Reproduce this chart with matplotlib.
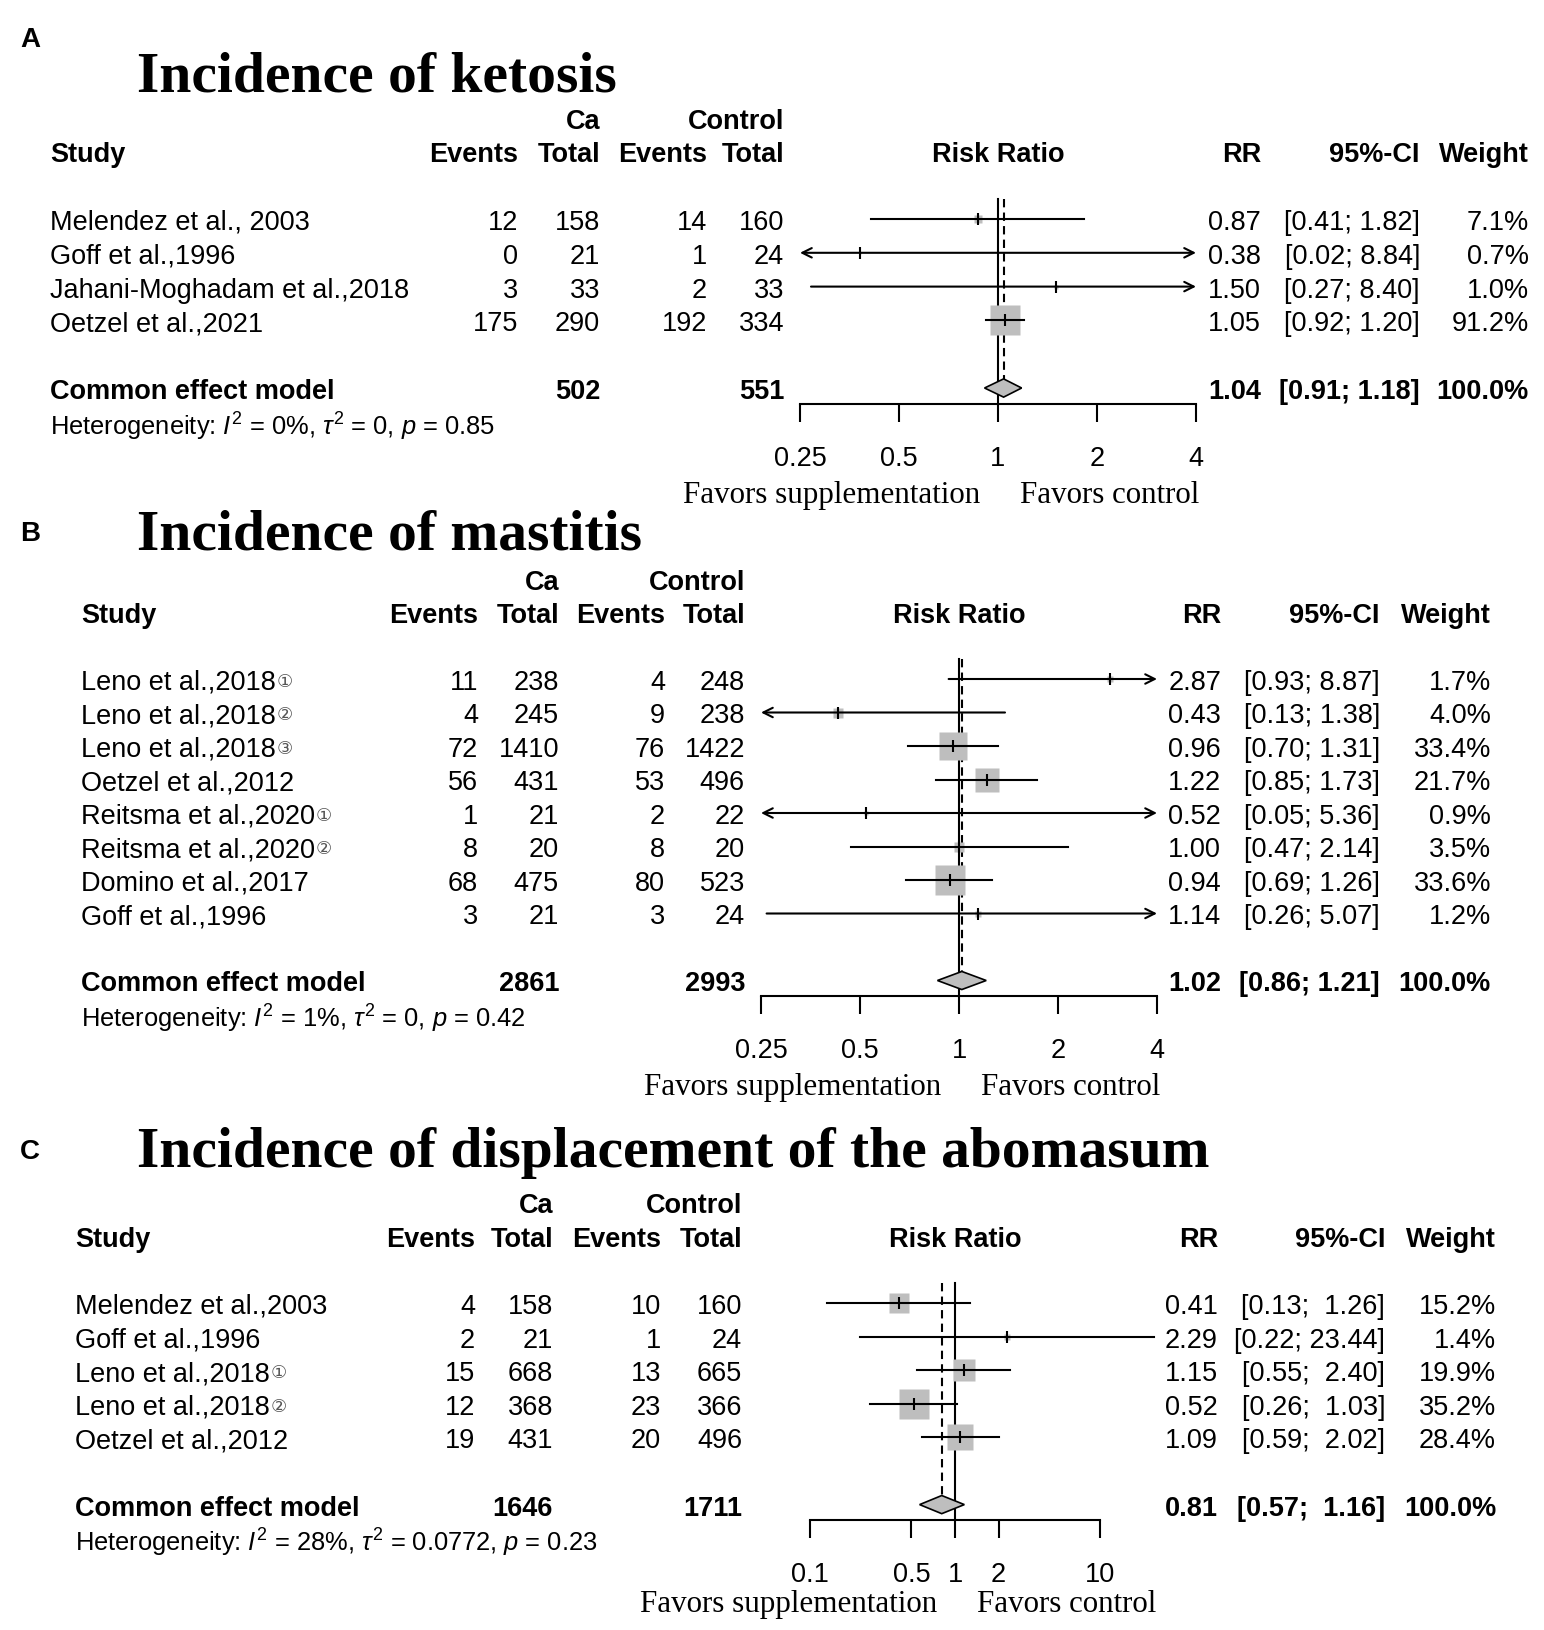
import numpy as np
import matplotlib.pyplot as plt
from matplotlib.transforms import blended_transform_factory
from matplotlib.ticker import NullLocator

plt.rcParams['font.family'] = ['Liberation Sans', 'DejaVu Sans']
plt.rcParams['mathtext.fontset'] = 'custom'
plt.rcParams['mathtext.rm'] = 'Liberation Sans'
plt.rcParams['mathtext.it'] = 'Liberation Sans:italic'

W, H = 1544, 1631
FS = 19.5
GRAY = '#BEBEBE'

# ---------------- A: ketosis ----------------
studies_a = ["Melendez et al., 2003", "Goff et al.,1996",
             "Jahani-Moghadam et al.,2018", "Oetzel et al.,2021"]
ev_ca_a = [12, 0, 3, 175]
n_ca_a = [158, 21, 33, 290]
ev_ct_a = [14, 1, 2, 192]
n_ct_a = [160, 24, 33, 334]
rr_a = [0.87, 0.38, 1.50, 1.05]
lo_a = [0.41, 0.02, 0.27, 0.92]
hi_a = [1.82, 8.84, 8.40, 1.20]
wt_a = [7.1, 0.7, 1.0, 91.2]
pooled_a = [1.04, 0.91, 1.18]
totals_a = [502, 551]
het_a = r"Heterogeneity: $I^2$ = 0%, $\tau^2$ = 0, $p$ = 0.85"

# ---------------- B: mastitis ----------------
studies_b = ["Leno et al.,2018\u2460", "Leno et al.,2018\u2461", "Leno et al.,2018\u2462",
             "Oetzel et al.,2012", "Reitsma et al.,2020\u2460", "Reitsma et al.,2020\u2461",
             "Domino et al.,2017", "Goff et al.,1996"]
ev_ca_b = [11, 4, 72, 56, 1, 8, 68, 3]
n_ca_b = [238, 245, 1410, 431, 21, 20, 475, 21]
ev_ct_b = [4, 9, 76, 53, 2, 8, 80, 3]
n_ct_b = [248, 238, 1422, 496, 22, 20, 523, 24]
rr_b = [2.87, 0.43, 0.96, 1.22, 0.52, 1.00, 0.94, 1.14]
lo_b = [0.93, 0.13, 0.70, 0.85, 0.05, 0.47, 0.69, 0.26]
hi_b = [8.87, 1.38, 1.31, 1.73, 5.36, 2.14, 1.26, 5.07]
wt_b = [1.7, 4.0, 33.4, 21.7, 0.9, 3.5, 33.6, 1.2]
pooled_b = [1.02, 0.86, 1.21]
totals_b = [2861, 2993]
het_b = r"Heterogeneity: $I^2$ = 1%, $\tau^2$ = 0, $p$ = 0.42"

# ---------------- C: displaced abomasum ----------------
studies_c = ["Melendez et al.,2003", "Goff et al.,1996", "Leno et al.,2018\u2460",
             "Leno et al.,2018\u2461", "Oetzel et al.,2012"]
ev_ca_c = [4, 2, 15, 12, 19]
n_ca_c = [158, 21, 668, 368, 431]
ev_ct_c = [10, 1, 13, 23, 20]
n_ct_c = [160, 24, 665, 366, 496]
rr_c = [0.41, 2.29, 1.15, 0.52, 1.09]
lo_c = [0.13, 0.22, 0.55, 0.26, 0.59]
hi_c = [1.26, 23.44, 2.40, 1.03, 2.02]
wt_c = [15.2, 1.4, 19.9, 35.2, 28.4]
pooled_c = [0.81, 0.57, 1.16]
totals_c = [1646, 1711]
het_c = r"Heterogeneity: $I^2$ = 28%, $\tau^2$ = 0.0772, $p$ = 0.23"

panels = [
    dict(letter='A', title='Incidence of ketosis', studies=studies_a, ev_ca=ev_ca_a, n_ca=n_ca_a,
         ev_ct=ev_ct_a, n_ct=n_ct_a, rr=rr_a, lo=lo_a, hi=hi_a, wt=wt_a, pooled=pooled_a,
         totals=totals_a, het=het_a, xlim=(0.25, 4), clip=True,
         ticks=[0.25, 0.5, 1, 2, 4], ticklabels=['0.25', '0.5', '1', '2', '4'],
         # layout in pixels
         letter_y=40, title_base=91, y0=220, dy=33.8, ax_x=(800, 1196),
         cols=(50, 518, 600, 707, 784, 1261, 1420, 1529), fav=91),
    dict(letter='B', title='Incidence of mastitis', studies=studies_b, ev_ca=ev_ca_b, n_ca=n_ca_b,
         ev_ct=ev_ct_b, n_ct=n_ct_b, rr=rr_b, lo=lo_b, hi=hi_b, wt=wt_b, pooled=pooled_b,
         totals=totals_b, het=het_b, xlim=(0.25, 4), clip=True,
         ticks=[0.25, 0.5, 1, 2, 4], ticklabels=['0.25', '0.5', '1', '2', '4'],
         letter_y=534, title_base=550, y0=680, dy=33.5, ax_x=(761, 1157),
         cols=(81, 478, 559, 665, 745, 1221, 1380, 1491), fav=90),
    dict(letter='C', title='Incidence of displacement of the abomasum', studies=studies_c,
         ev_ca=ev_ca_c, n_ca=n_ca_c, ev_ct=ev_ct_c, n_ct=n_ct_c, rr=rr_c, lo=lo_c, hi=hi_c,
         wt=wt_c, pooled=pooled_c, totals=totals_c, het=het_c, xlim=(0.1, 10), clip=False,
         ticks=[0.1, 0.5, 1, 2, 10], ticklabels=['0.1', '0.5', '1', '2', '10'],
         letter_y=1152, title_base=1167, y0=1304, dy=33.6, ax_x=(810, 1100),
         cols=(75, 475, 553, 661, 742, 1218, 1385, 1496), fav=83),
]

fig = plt.figure(figsize=(W / 100, H / 100), dpi=100)
renderer = fig.canvas.get_renderer()


def ci_strings(lo, hi):
    # pad the upper bound with spaces to a common width, as R's formatC does
    raw = ["%.2f" % h for h in hi]
    m = max(len(r) for r in raw)
    return ["[%.2f; %s]" % (l, r.rjust(m)) for l, r in zip(lo, raw)]


for p in panels:
    n = len(p['studies'])
    srow = n + 1
    r_top = -0.6
    r_axis = srow + 0.47
    y0 = p['y0']
    DY = p['dy']
    x0, x1 = p['ax_x']
    ax = fig.add_axes([x0 / W, 1 - (y0 + r_axis * DY) / H, (x1 - x0) / W, (r_axis - r_top) * DY / H])
    ax.set_xscale('log')
    ax.set_xlim(*p['xlim'])
    ax.set_ylim(r_axis, r_top)
    ax.patch.set_visible(False)
    for s in ['left', 'right', 'top']:
        ax.spines[s].set_visible(False)
    ax.spines['bottom'].set_linewidth(1.5)
    ax.set_yticks([])
    ax.set_xticks(p['ticks'])
    ax.set_xticklabels(p['ticklabels'])
    ax.xaxis.set_minor_locator(NullLocator())
    ax.tick_params(axis='x', length=13, width=1.5, direction='out', pad=16.5, labelsize=FS)

    tr = blended_transform_factory(fig.transFigure, ax.transData)
    trd = ax.transData
    c_study, c_e1, c_n1, c_e2, c_n2, c_rr, c_ci, c_w = [c / W for c in p['cols']]

    # headers
    ax.text(c_n1, -3, 'Ca', transform=tr, ha='right', va='center_baseline', fontsize=FS, fontweight='bold')
    ax.text(c_n2, -3, 'Control', transform=tr, ha='right', va='center_baseline', fontsize=FS, fontweight='bold')
    ax.text(c_study, -2, 'Study', transform=tr, ha='left', va='center_baseline', fontsize=FS, fontweight='bold')
    for c, lab in [(c_e1, 'Events'), (c_n1, 'Total'), (c_e2, 'Events'), (c_n2, 'Total'),
                   (c_rr, 'RR'), (c_ci, '95%-CI'), (c_w, 'Weight')]:
        ax.text(c, -2, lab, transform=tr, ha='right', va='center_baseline', fontsize=FS, fontweight='bold')
    ax.text(1, -2, 'Risk Ratio', transform=trd, ha='center', va='center_baseline', fontsize=FS, fontweight='bold')

    cis = ci_strings(p['lo'] + [p['pooled'][1]], p['hi'] + [p['pooled'][2]])
    wmax = max(p['wt'])
    for i in range(n):
        lab = p['studies'][i]
        if lab[-1] in '\u2460\u2461\u2462':
            t = ax.text(c_study, i, lab[:-1], transform=tr, ha='left', va='center_baseline', fontsize=FS)
            bb = t.get_window_extent(renderer=renderer)
            ax.text((bb.x1 + 1) / W, i, lab[-1], transform=tr, ha='left', va='center_baseline',
                    fontsize=13, family='DejaVu Sans', color='#555555')
        else:
            ax.text(c_study, i, lab, transform=tr, ha='left', va='center_baseline', fontsize=FS)
        for c, v in [(c_e1, p['ev_ca'][i]), (c_n1, p['n_ca'][i]), (c_e2, p['ev_ct'][i]), (c_n2, p['n_ct'][i])]:
            ax.text(c, i, str(v), transform=tr, ha='right', va='center_baseline', fontsize=FS)
        ax.text(c_rr, i, '%.2f' % p['rr'][i], transform=tr, ha='right', va='center_baseline', fontsize=FS)
        ax.text(c_ci, i, cis[i], transform=tr, ha='right', va='center_baseline', fontsize=FS)
        ax.text(c_w, i, '%.1f%%' % p['wt'][i], transform=tr, ha='right', va='center_baseline', fontsize=FS)

        # square, CI line, estimate tick
        ax.plot(p['rr'][i], i, marker='s', ms=20.9 * np.sqrt(p['wt'][i] / wmax), color=GRAY,
                mec='none', clip_on=False, zorder=2)
        a, b = p['lo'][i], p['hi'][i]
        la = p['clip'] and a < p['xlim'][0]
        ra = p['clip'] and b > p['xlim'][1]
        if la:
            a = p['xlim'][0]
        if ra:
            b = p['xlim'][1]
        if la or ra:
            style = '<->' if (la and ra) else ('->' if ra else '<-')
            ax.annotate('', xy=(b, i), xytext=(a, i), xycoords='data',
                        arrowprops=dict(arrowstyle=style, lw=1.5, color='black', shrinkA=0, shrinkB=0,
                                        mutation_scale=17), zorder=3)
        else:
            ax.plot([a, b], [i, i], color='black', lw=1.5, clip_on=False, zorder=3)
        ax.plot(p['rr'][i], i, marker='|', ms=8, mew=1.5, color='black', clip_on=False, zorder=4)

    # summary row
    est, plo, phi = p['pooled']
    ax.text(c_study, srow, 'Common effect model', transform=tr, ha='left', va='center_baseline',
            fontsize=FS, fontweight='bold')
    ax.text(c_n1, srow, str(p['totals'][0]), transform=tr, ha='right', va='center_baseline',
            fontsize=FS, fontweight='bold')
    ax.text(c_n2, srow, str(p['totals'][1]), transform=tr, ha='right', va='center_baseline',
            fontsize=FS, fontweight='bold')
    ax.text(c_rr, srow, '%.2f' % est, transform=tr, ha='right', va='center_baseline', fontsize=FS, fontweight='bold')
    ax.text(c_ci, srow, cis[-1], transform=tr, ha='right', va='center_baseline', fontsize=FS, fontweight='bold')
    ax.text(c_w, srow, '100.0%', transform=tr, ha='right', va='center_baseline', fontsize=FS, fontweight='bold')
    ax.text(c_study, srow + 1, p['het'], transform=tr, ha='left', va='center_baseline', fontsize=18.4)

    dh = 0.27
    ax.fill([plo, est, phi, est], [srow, srow - dh, srow, srow + dh], facecolor=GRAY,
            edgecolor='black', lw=1.2, clip_on=False, zorder=3)
    ax.plot([1, 1], [r_top, r_axis], color='black', lw=1.5, clip_on=False, zorder=1)
    ax.plot([est, est], [r_top, srow - dh], color='black', lw=1.5, ls=(0, (4, 2.5)), clip_on=False, zorder=1)

    # favours labels
    ax.annotate('Favors supplementation', xy=(1, r_axis), xytext=(-13, -p['fav'] * 0.72),
                xycoords='data', textcoords='offset points', ha='right', va='center',
                family='Liberation Serif', fontsize=22.3)
    ax.annotate('Favors control', xy=(1, r_axis), xytext=(16, -p['fav'] * 0.72),
                xycoords='data', textcoords='offset points', ha='left', va='center',
                family='Liberation Serif', fontsize=22.3)

    # letter and title
    fig.text(20 / W, 1 - p['letter_y'] / H, p['letter'], ha='left', va='center', fontsize=20, fontweight='bold')
    fig.text(137 / W, 1 - p['title_base'] / H, p['title'], ha='left', va='baseline',
             family='Liberation Serif', fontweight='bold', fontsize=41.4)

fig.savefig('out.png', dpi=100, facecolor='white')
